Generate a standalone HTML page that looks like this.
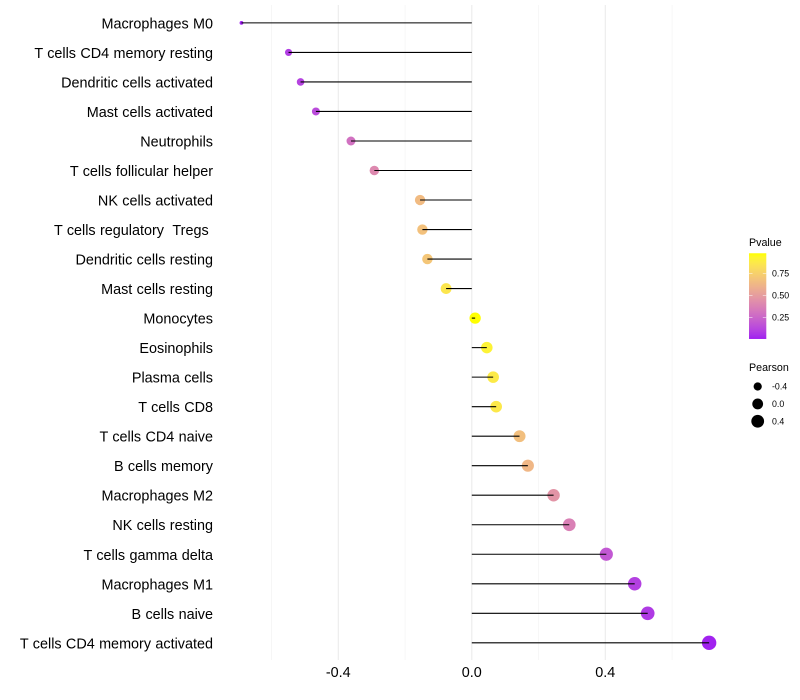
<!DOCTYPE html>
<html>
<head>
<meta charset="utf-8">
<style>
html,body{margin:0;padding:0;background:#fff;}
svg{display:block;font-family:"Liberation Sans",sans-serif;}
text{white-space:pre;}
</style>
</head>
<body>
<svg id="chart" width="800" height="700" viewBox="0 0 800 700" xmlns="http://www.w3.org/2000/svg">
<defs><linearGradient id="pvalue-gradient" x1="0" y1="1" x2="0" y2="0"></linearGradient></defs>
<rect x="0" y="0" width="800" height="700" fill="#ffffff"/>
<g id="grid"></g>
<g id="points"></g>
<g id="stems"></g>
<g id="ylabels"></g>
<g id="xlabels"></g>
<g id="legend-pvalue"></g>
<g id="legend-pearson"></g>
</svg>
<script>
const categories = ["Macrophages M0","T cells CD4 memory resting","Dendritic cells activated","Mast cells activated","Neutrophils","T cells follicular helper","NK cells activated","T cells regulatory  Tregs ","Dendritic cells resting","Mast cells resting","Monocytes","Eosinophils","Plasma cells","T cells CD8","T cells CD4 naive","B cells memory","Macrophages M2","NK cells resting","T cells gamma delta","Macrophages M1","B cells naive","T cells CD4 memory activated"];
const pearson = [-0.69,-0.549,-0.513,-0.467,-0.362,-0.292,-0.155,-0.148,-0.133,-0.077,0.01,0.045,0.064,0.073,0.143,0.168,0.245,0.292,0.403,0.488,0.527,0.711];
const pvalue = [0.006,0.09,0.11,0.14,0.30,0.41,0.65,0.68,0.70,0.86,0.98,0.92,0.88,0.87,0.67,0.63,0.46,0.37,0.19,0.10,0.08,0.01];
const xMajorTicks = [-0.4,0,0.4];
const xTickLabels = ["-0.4","0.0","0.4"];
const xGridMajor = [-0.4,0,0.4];
const xGridMinor = [-0.6,-0.2,0.2,0.6];
const pvalueTicks = [0.25,0.5,0.75];
const pvalueTickLabels = ["0.25","0.50","0.75"];
const pearsonLegend = [-0.4,0,0.4];
const pearsonLegendLabels = ["-0.4","0.0","0.4"];

const NS = "http://www.w3.org/2000/svg";
function make(parent, tag, attrs, text){
  const el = document.createElementNS(NS, tag);
  for (const k in attrs) el.setAttribute(k, attrs[k]);
  if (text !== undefined) el.textContent = text;
  parent.appendChild(el);
  return el;
}
const xScale = v => 471.8 + 333.8 * v;
const yScale = i => 22.9 + 29.52 * i;
const pMin = Math.min(...pvalue), pMax = Math.max(...pvalue);
const barY = p => 339.5 - 88 * p;
const minV = Math.min(...pearson), maxV = Math.max(...pearson);
const rScale = v => 1.9 + 5.3 * Math.sqrt((v - minV) / (maxV - minV));

function toLab(r,g,b){
  const f = c => { c/=255; return c<=0.04045 ? c/12.92 : Math.pow((c+0.055)/1.055,2.4); };
  const R=f(r),G=f(g),B=f(b);
  const X=(0.4124*R+0.3576*G+0.1805*B)/0.95047,Y=0.2126*R+0.7152*G+0.0722*B,Z=(0.0193*R+0.1192*G+0.9505*B)/1.08883;
  const h=t=>t>0.008856?Math.cbrt(t):7.787*t+16/116;
  return [116*h(Y)-16,500*(h(X)-h(Y)),200*(h(Y)-h(Z))];
}
function fromLab(L,a,b){
  const fy=(L+16)/116,fx=fy+a/500,fz=fy-b/200;
  const g=t=>t*t*t>0.008856?t*t*t:(t-16/116)/7.787;
  const X=g(fx)*0.95047,Y=g(fy),Z=g(fz)*1.08883;
  const lin=[3.2406*X-1.5372*Y-0.4986*Z,-0.9689*X+1.8758*Y+0.0415*Z,0.0557*X-0.2040*Y+1.0570*Z];
  const c=lin.map(v=>{v=Math.max(0,Math.min(1,v));return Math.round(255*(v<=0.0031308?12.92*v:1.055*Math.pow(v,1/2.4)-0.055));});
  return "rgb("+c.join(",")+")";
}
const labLow = toLab(160,32,240), labHigh = toLab(255,255,0);
function colorScale(p){
  const t = Math.max(0, Math.min(1, (p - pMin) / (pMax - pMin)));
  return fromLab(labLow[0]+(labHigh[0]-labLow[0])*t, labLow[1]+(labHigh[1]-labLow[1])*t, labLow[2]+(labHigh[2]-labLow[2])*t);
}

const grid = document.getElementById("grid");
xGridMinor.forEach(v => {
  const l = make(grid,"line",{x1:xScale(v),x2:xScale(v),y1:5,y2:660,stroke:"#f0f0f0","stroke-width":0.55});
  
  
});
xGridMajor.forEach(v => {
  const l = make(grid,"line",{x1:xScale(v),x2:xScale(v),y1:5,y2:660,stroke:"#ebebeb","stroke-width":1.07});
  
  
});

const points = document.getElementById("points");
const stems = document.getElementById("stems");
const ylabels = document.getElementById("ylabels");
categories.forEach((c,i) => {
  const y = yScale(i);
  const pt = make(points,"circle",{cx:xScale(pearson[i]),cy:y,r:rScale(pearson[i]),fill:colorScale(pvalue[i])});
  
  
  const st = make(stems,"line",{x1:xScale(0),x2:xScale(pearson[i]),y1:y,y2:y,stroke:"#000000","stroke-width":1.07});
  
  
  const tx = make(ylabels,"text",{x:213,y:y+5.5,"text-anchor":"end","font-size":14.4,"word-spacing":0.35,fill:"#000000"},c);
  
  
});

const xlabels = document.getElementById("xlabels");
xMajorTicks.forEach((v,i) => {
  const tx = make(xlabels,"text",{x:xScale(v),y:677,"text-anchor":"middle","font-size":14.4,fill:"#000000"},xTickLabels[i]);
  
  
});

const grad = document.getElementById("pvalue-gradient");
for (let k = 0; k <= 20; k++){
  make(grad,"stop",{offset:k/20,"stop-color":colorScale(pMin+(pMax-pMin)*k/20)});
}
const lp = document.getElementById("legend-pvalue");
const lpTitle = make(lp,"text",{x:749,y:246,"font-size":10.7,fill:"#000000"},"Pvalue");


const bar = make(lp,"rect",{x:749,y:barY(pMax),width:17.3,height:barY(pMin)-barY(pMax),fill:"url(#pvalue-gradient)"});


pvalueTicks.forEach((p,i) => {
  const t1 = make(lp,"line",{x1:749,x2:752.5,y1:barY(p),y2:barY(p),stroke:"#ffffff","stroke-width":0.5});
  
  
  const t2 = make(lp,"line",{x1:762.8,x2:766.3,y1:barY(p),y2:barY(p),stroke:"#ffffff","stroke-width":0.5});
  
  
  const tx = make(lp,"text",{x:772,y:barY(p)+3.2,"font-size":8.8,fill:"#000000"},pvalueTickLabels[i]);
  
  
});

const lq = document.getElementById("legend-pearson");
const lqTitle = make(lq,"text",{x:749,y:371,"font-size":10.7,fill:"#000000"},"Pearson");


const legendYs = i => 386.5 + 17.4 * i;
pearsonLegend.forEach((v,i) => {
  const c = make(lq,"circle",{cx:757.7,cy:legendYs(i),r:rScale(v) - 0.2,fill:"#000000"});
  
  
  const tx = make(lq,"text",{x:772,y:legendYs(i)+3.2,"font-size":8.8,fill:"#000000"},pearsonLegendLabels[i]);
  
  
});
</script>
</body>
</html>
